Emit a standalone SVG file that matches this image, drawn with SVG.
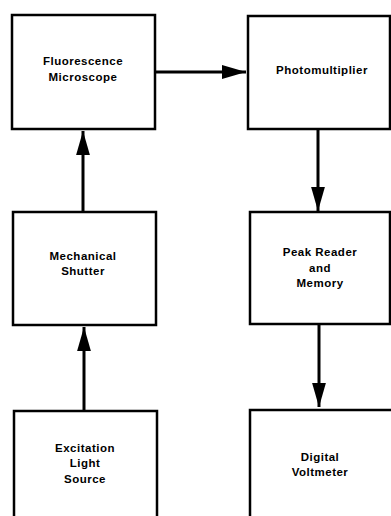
<svg xmlns="http://www.w3.org/2000/svg" width="391" height="516" viewBox="0 0 391 516">
<style>
.box{fill:#fff;stroke:#000;stroke-width:2.5}
.lbl{font-family:"Liberation Sans",Arial,sans-serif;font-weight:bold;font-size:11.5px;letter-spacing:0.5px;text-anchor:middle;fill:#000}
.conn{stroke:#000;stroke-width:3;fill:none}
</style>
<defs>
<marker id="ah" markerWidth="8" markerHeight="4.6" refX="8" refY="2.3" orient="auto" markerUnits="strokeWidth">
<path d="M0,0 L8,2.3 L0,4.6 Z" fill="#000"/>
</marker>
</defs>
<rect width="391" height="516" fill="#fff"/>
<g id="connectors">
<line class="conn" x1="156" y1="72" x2="246" y2="72" marker-end="url(#ah)"/>
<line class="conn" x1="83" y1="212" x2="83" y2="131" marker-end="url(#ah)"/>
<line class="conn" x1="84" y1="411" x2="84" y2="327" marker-end="url(#ah)"/>
<line class="conn" x1="318" y1="129" x2="318" y2="211" marker-end="url(#ah)"/>
<line class="conn" x1="319" y1="324" x2="319" y2="407" marker-end="url(#ah)"/>
</g>
<g id="fluorescence-microscope">
<rect class="box" x="12" y="15" width="143" height="114"/>
<text class="lbl" x="83" y="65">Fluorescence</text>
<text class="lbl" x="83" y="81">Microscope</text>
</g>
<g id="photomultiplier">
<rect class="box" x="248" y="16" width="142" height="113"/>
<text class="lbl" x="322" y="74">Photomultiplier</text>
</g>
<g id="mechanical-shutter">
<rect class="box" x="13" y="212" width="143" height="113"/>
<text class="lbl" x="83" y="260">Mechanical</text>
<text class="lbl" x="83" y="275">Shutter</text>
</g>
<g id="peak-reader">
<rect class="box" x="250" y="212" width="140" height="112"/>
<text class="lbl" x="320" y="256">Peak Reader</text>
<text class="lbl" x="320" y="272">and</text>
<text class="lbl" x="320" y="287">Memory</text>
</g>
<g id="excitation-light-source">
<rect class="box" x="14" y="411" width="143" height="115"/>
<text class="lbl" x="85" y="452">Excitation</text>
<text class="lbl" x="85" y="467">Light</text>
<text class="lbl" x="85" y="483">Source</text>
</g>
<g id="digital-voltmeter">
<rect class="box" x="250" y="410" width="145" height="116"/>
<text class="lbl" x="320" y="461">Digital</text>
<text class="lbl" x="320" y="476">Voltmeter</text>
</g>
</svg>
